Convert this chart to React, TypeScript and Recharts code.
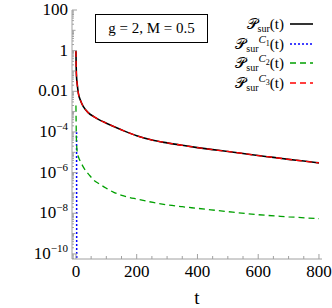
import React from 'react';
import { LineChart, Line, XAxis, YAxis } from 'recharts';

// survival probability P_sur(t)
const survT = [0, 0.5, 1, 2, 4, 8, 15, 25, 40, 60, 80, 100, 130, 160, 200, 250, 300, 350, 400, 450, 500, 550, 600, 650, 700, 750, 800];
const survP = [1, 0.3, 0.12, 0.05, 0.024, 8e-3, 3.5e-3, 1.7e-3, 9e-4, 5.5e-4, 3.7e-4, 2.7e-4, 1.7e-4, 1.1e-4, 6.5e-5, 4e-5, 2.9e-5, 2.2e-5, 1.7e-5, 1.35e-5, 1.1e-5, 8.7e-6, 6.9e-6, 5.6e-6, 4.5e-6, 3.7e-6, 3e-6];

// C1 contribution (drops off almost at once)
const c1T = [2, 2.3, 2.6];
const c1P = [1e-4, 1e-8, 1e-12];

// C2 contribution
const c2T = [0, 0.5, 1, 2, 3, 5, 8, 15, 25, 35, 46, 57, 80, 100, 123, 160, 200, 254, 300, 350, 400, 500, 600, 700, 800];
const c2P = [2e-3, 4e-4, 1e-4, 3e-5, 1.5e-5, 9e-6, 6e-6, 3.5e-6, 1.8e-6, 1.1e-6, 7e-7, 4.5e-7, 2.6e-7, 1.7e-7, 1.1e-7, 7e-8, 5e-8, 3.4e-8, 2.6e-8, 2.1e-8, 1.75e-8, 1.2e-8, 8.5e-9, 6.7e-9, 5.4e-9];

// C3 contribution (lies on top of P_sur)
const c3T = survT;
const c3P = [1, 0.3, 0.12, 0.05, 0.024, 8e-3, 3.5e-3, 1.7e-3, 9e-4, 5.5e-4, 3.7e-4, 2.7e-4, 1.7e-4, 1.1e-4, 6.5e-5, 4e-5, 2.9e-5, 2.2e-5, 1.7e-5, 1.35e-5, 1.1e-5, 8.7e-6, 6.9e-6, 5.6e-6, 4.5e-6, 3.7e-6, 3e-6];

const xMajor = [0, 200, 400, 600, 800];

const rows = (ts: number[], ps: number[]) => ts.map((t, i) => ({ t, p: ps[i] }));

const xTicks: number[] = [];
for (let v = 0; v <= 800; v += 50) xTicks.push(v);

const yLo = Math.pow(10, -10.25);
const yTicks: number[] = [];
for (let k = -11; k <= 2; k++) {
  for (let m = 1; m <= 9; m++) {
    const v = m * Math.pow(10, k);
    if (v >= yLo && v <= 100.0001) yTicks.push(v);
  }
}

const FONT = '"Liberation Serif", "DejaVu Serif", serif';
const FRAME = '#a0a0a0';

const isMajorY = (v: number) => {
  const e = Math.log10(v);
  return Math.abs(e - Math.round(e)) < 1e-6 && Math.round(e) % 2 === 0;
};
const isDecade = (v: number) => {
  const e = Math.log10(v);
  return Math.abs(e - Math.round(e)) < 1e-6;
};

const YLeftTick = (props: any) => {
  const { x, y, payload } = props;
  const v = payload.value;
  const len = isMajorY(v) ? 5 : isDecade(v) ? 3.5 : 2;
  let label: React.ReactNode = null;
  if (isMajorY(v)) {
    const e = Math.round(Math.log10(v));
    if (e === 2) label = '100';
    else if (e === 0) label = '1';
    else if (e === -2) label = '0.01';
    else
      label = (
        <>
          <tspan>10</tspan>
          <tspan dy={-7} fontSize={11}>{'\u2212' + -e}</tspan>
        </>
      );
  }
  return (
    <g>
      <line x1={x} y1={y} x2={x + len} y2={y} stroke={FRAME} />
      {label && (
        <text x={x - 4} y={y + 5} textAnchor="end" fontFamily={FONT} fontSize={17} fill="#000">
          {label}
        </text>
      )}
    </g>
  );
};

const YRightTick = (props: any) => {
  const { x, y, payload } = props;
  const v = payload.value;
  const len = isMajorY(v) ? 5 : isDecade(v) ? 3.5 : 2;
  return <line x1={x} y1={y} x2={x - len} y2={y} stroke={FRAME} />;
};

const XBottomTick = (props: any) => {
  const { x, y, payload } = props;
  const major = xMajor.includes(payload.value);
  return (
    <g>
      <line x1={x} y1={y} x2={x} y2={y - (major ? 5 : 3)} stroke={FRAME} />
      {major && (
        <text x={x} y={y + 18} textAnchor="middle" fontFamily={FONT} fontSize={17} fill="#000">
          {payload.value}
        </text>
      )}
    </g>
  );
};

const XTopTick = (props: any) => {
  const { x, y, payload } = props;
  const major = xMajor.includes(payload.value);
  return <line x1={x} y1={y} x2={x} y2={y + (major ? 5 : 3)} stroke={FRAME} />;
};

const P = () => <span style={{ fontFamily: '"DejaVu Serif", "DejaVu Sans", serif' }}>{'\u{1D4AB}'}</span>;

const LegendRow = ({ cy, c, sample }: { cy: number; c?: string; sample: React.ReactNode }) => (
  <>
    <div
      style={{
        position: 'absolute', right: 48, top: cy - 10, height: 20, lineHeight: '20px',
        fontFamily: FONT, fontSize: 15, whiteSpace: 'nowrap',
      }}
    >
      <P />
      <span style={{ fontSize: 10, position: 'relative', top: 3, lineHeight: 1 }}>sur</span>
      {c && (
        <span style={{ fontSize: 11, position: 'relative', top: -6, fontStyle: 'italic', lineHeight: 1 }}>
          C<span style={{ fontSize: 8, position: 'relative', top: 3, fontStyle: 'normal' }}>{c}</span>
        </span>
      )}
      (t)
    </div>
    <svg width={23} height={6} style={{ position: 'absolute', left: 290, top: cy - 3 }}>
      {sample}
    </svg>
  </>
);

export default function App() {
  return (
    <div style={{ position: 'absolute', left: 0, top: 0, width: 332, height: 308, background: '#fff' }}>
      <LineChart width={332} height={308} margin={{ top: 10, right: 10, bottom: 0, left: 0 }}>
        <XAxis
          xAxisId="bottom"
          dataKey="t"
          type="number"
          domain={[-13, 810]}
          allowDataOverflow
          ticks={xTicks}
          interval={0}
          tickSize={0}
          tickMargin={0}
          tick={<XBottomTick />}
          height={49}
          axisLine={{ stroke: FRAME }}
          label={{ value: 't', position: 'insideBottom', offset: 4, fontFamily: FONT, fontSize: 19, fill: '#000' }}
        />
        <XAxis
          xAxisId="top"
          orientation="top"
          dataKey="t"
          type="number"
          domain={[-13, 810]}
          allowDataOverflow
          ticks={xTicks}
          interval={0}
          tickSize={0}
          tickMargin={0}
          tick={<XTopTick />}
          height={0}
          axisLine={{ stroke: FRAME }}
        />
        <YAxis
          yAxisId="left"
          type="number"
          scale="log"
          domain={[yLo, 100]}
          allowDataOverflow
          ticks={yTicks}
          interval={0}
          tickSize={0}
          tickMargin={0}
          tick={<YLeftTick />}
          width={72}
          axisLine={{ stroke: FRAME }}
        />
        <YAxis
          yAxisId="right"
          orientation="right"
          type="number"
          scale="log"
          domain={[yLo, 100]}
          allowDataOverflow
          ticks={yTicks}
          interval={0}
          tickSize={0}
          tickMargin={0}
          tick={<YRightTick />}
          width={0}
          axisLine={{ stroke: FRAME }}
        />
        <Line xAxisId="bottom" yAxisId="left" data={rows(survT, survP)} dataKey="p" type="monotone" dot={false} stroke="#000" strokeWidth={1.6} isAnimationActive={false} />
        <Line xAxisId="bottom" yAxisId="left" data={rows(c1T, c1P)} dataKey="p" type="linear" dot={false} stroke="#0000ff" strokeWidth={1.5} strokeDasharray="2 2" isAnimationActive={false} />
        <Line xAxisId="bottom" yAxisId="left" data={rows(c2T, c2P)} dataKey="p" type="monotone" dot={false} stroke="#00a000" strokeWidth={1.3} strokeDasharray="6 4" isAnimationActive={false} />
        <Line xAxisId="bottom" yAxisId="left" data={rows(c3T, c3P)} dataKey="p" type="monotone" dot={false} stroke="#ff0000" strokeWidth={1.3} strokeDasharray="6 4" isAnimationActive={false} />
      </LineChart>

      <div
        style={{
          position: 'absolute', left: 95, top: 14, width: 113, height: 29, boxSizing: 'border-box',
          border: '1px solid #000', fontFamily: FONT, fontSize: 15, display: 'flex',
          alignItems: 'center', justifyContent: 'center', whiteSpace: 'nowrap',
        }}
      >
        g = 2, M = 0.5
      </div>

      <LegendRow cy={24} sample={<line x1={0} y1={3} x2={23} y2={3} stroke="#000" strokeWidth={1.6} />} />
      <LegendRow cy={43.5} c="1" sample={<line x1={0} y1={3} x2={23} y2={3} stroke="#0000ff" strokeWidth={1.5} strokeDasharray="2 2" />} />
      <LegendRow cy={63} c="2" sample={<line x1={0} y1={3} x2={23} y2={3} stroke="#00a000" strokeWidth={1.3} strokeDasharray="6 4" />} />
      <LegendRow cy={83} c="3" sample={<line x1={0} y1={3} x2={23} y2={3} stroke="#ff0000" strokeWidth={1.3} strokeDasharray="6 4" />} />
    </div>
  );
}
